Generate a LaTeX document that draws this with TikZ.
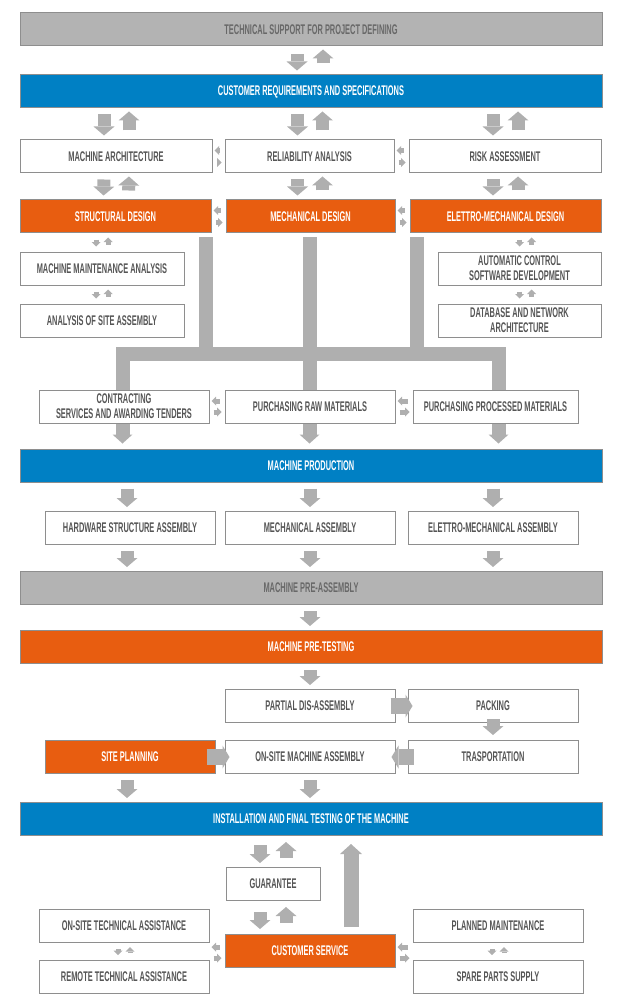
\documentclass[tikz,border=0pt]{standalone}
\usepackage{fontspec}
\setmainfont{Liberation Sans}[FakeStretch=0.53]
\usepackage{tikz}
\usetikzlibrary{arrows.meta,positioning,calc,backgrounds}
\usepackage{xcolor}
\definecolor{topgray}{HTML}{B3B3B3}
\definecolor{arrowgray}{HTML}{AFAFAF}
\definecolor{boxline}{HTML}{8E8E8E}
\definecolor{boxtext}{HTML}{555555}
\definecolor{graytext}{HTML}{686868}
\definecolor{specblue}{HTML}{0080C4}
\definecolor{designorange}{HTML}{E85D10}

\tikzset{
  box/.style={rectangle,draw=boxline,line width=1pt,fill=white,text=boxtext,
    minimum height=33pt,inner sep=0pt,align=center,
    font=\bfseries\fontsize{14}{15}\selectfont},
  wide/.style={minimum width=582pt},
  graybox/.style={box,fill=topgray,text=graytext},
  bluebox/.style={box,fill=specblue,text=white},
  orangebox/.style={box,fill=designorange,text=white},
  bigarr/.style={draw=arrowgray,line width=13pt,-{Triangle[width=21pt,length=9pt,line width=0pt]}},
  dn/.style={bigarr,shorten <=6pt,shorten >=4pt},
  up/.style={bigarr,shorten <=9pt,shorten >=3pt},
  harr/.style={draw=arrowgray,line width=16pt,-{Triangle[width=23pt,length=7pt,line width=0pt]}},
  sm/.style={draw=arrowgray,line width=5pt,-{Triangle[width=9pt,length=4.5pt,line width=0pt]}},
  smL/.style={sm,shorten <=5pt,shorten >=2pt},
  smR/.style={sm,shorten <=4pt,shorten >=3pt},
  smD/.style={sm,shorten <=6pt,shorten >=5pt},
  smU/.style={sm,shorten <=7pt,shorten >=4pt},
  bus/.style={draw=arrowgray,line width=14pt},
  busarr/.style={bus,-{Triangle[width=20pt,length=9pt,line width=0pt]},shorten >=5pt}
}

\begin{document}
\begin{tikzpicture}[x=1pt,y=-1pt]
  \useasboundingbox (0,0) rectangle (626,1000);

  % Project definition
  \node[graybox,wide] (tech) at (311,29.5) {TECHNICAL SUPPORT FOR PROJECT DEFINING};
  \node[bluebox,wide] (cust) at (311,91.5) {CUSTOMER REQUIREMENTS AND SPECIFICATIONS};

  \node[box,minimum width=192pt] (arch) at (116,156.5) {MACHINE ARCHITECTURE};
  \node[box,minimum width=169pt] (reli) at (309.5,156.5) {RELIABILITY ANALYSIS};
  \node[box,minimum width=192pt] (risk) at (505,156.5) {RISK ASSESSMENT};

  % Design
  \node[orangebox,minimum width=191pt] (struct) at (115.5,216.5) {STRUCTURAL DESIGN};
  \node[orangebox,minimum width=169pt] (mech) at (310.5,216.5) {MECHANICAL DESIGN};
  \node[orangebox,minimum width=191pt] (elet) at (505.5,216.5) {ELETTRO-MECHANICAL DESIGN};

  \node[box,minimum width=164pt] (maint) at (102,268.5) {MACHINE MAINTENANCE ANALYSIS};
  \node[box,minimum width=164pt] (siteas) at (102,320.5) {ANALYSIS OF SITE ASSEMBLY};
  \node[box,minimum width=163pt] (autoc) at (519.5,268.5) {AUTOMATIC CONTROL\\SOFTWARE DEVELOPMENT};
  \node[box,minimum width=163pt] (dbnet) at (519.5,320.5) {DATABASE AND NETWORK\\ARCHITECTURE};

  % Purchasing
  \node[box,minimum width=170pt] (contr) at (124,406.5) {CONTRACTING\\SERVICES AND AWARDING TENDERS};
  \node[box,minimum width=170pt] (raw) at (310,406.5) {PURCHASING RAW MATERIALS};
  \node[box,minimum width=165pt] (proc) at (495.5,406.5) {PURCHASING PROCESSED MATERIALS};

  % Production
  \node[bluebox,wide] (prod) at (311,465.5) {MACHINE PRODUCTION};
  \node[box,minimum width=170pt] (hw) at (130,528) {HARDWARE STRUCTURE ASSEMBLY};
  \node[box,minimum width=170pt] (mechas) at (310,528) {MECHANICAL ASSEMBLY};
  \node[box,minimum width=170pt] (eletas) at (493,528) {ELETTRO-MECHANICAL ASSEMBLY};
  \node[graybox,wide] (preas) at (311,588) {MACHINE PRE-ASSEMBLY};
  \node[orangebox,wide] (pretest) at (311,647) {MACHINE PRE-TESTING};

  % Shipping and site
  \node[box,minimum width=170pt] (partial) at (310,706) {PARTIAL DIS-ASSEMBLY};
  \node[box,minimum width=170pt] (packing) at (493,706) {PACKING};
  \node[box,minimum width=170pt] (transp) at (493,757) {TRASPORTATION};
  \node[box,minimum width=170pt] (onsite) at (310,757) {ON-SITE MACHINE ASSEMBLY};
  \node[orangebox,minimum width=170pt] (siteplan) at (130,757) {SITE PLANNING};
  \node[bluebox,wide] (install) at (311,819) {INSTALLATION AND FINAL TESTING OF THE MACHINE};

  % After sales
  \node[box,minimum width=94pt] (guar) at (273,884) {GUARANTEE};
  \node[box,minimum width=170pt] (onta) at (124,926) {ON-SITE TECHNICAL ASSISTANCE};
  \node[orangebox,minimum width=170pt] (custsv) at (310,951) {CUSTOMER SERVICE};
  \node[box,minimum width=170pt] (remta) at (124,977) {REMOTE TECHNICAL ASSISTANCE};
  \node[box,minimum width=170pt] (plan) at (498,926) {PLANNED MAINTENANCE};
  \node[box,minimum width=170pt] (spare) at (498,977) {SPARE PARTS SUPPLY};

  % Bus from design to purchasing
  \coordinate (busw) at (122.5,353.5);
  \coordinate (buse) at (498.5,353.5);
  \begin{scope}[on background layer]
    \draw[bus,line cap=rect] (busw) -- (buse);
    \draw[bus] ($(struct.south east)+(-6,4)$) |- (busw);
    \draw[bus] ($(elet.south west)+(7,4)$) |- (buse);
    \draw[busarr] ($(mech.south)+(-1,4)$) -- ($(mech.south |- prod.north)+(-1,0)$);
    \draw[busarr] (busw) -- (busw |- prod.north);
    \draw[busarr] (buse) -- (buse |- prod.north);
  \end{scope}

  % Two-way arrows
  \draw[dn,shorten <=8pt] ($(tech.south)+(-14,0)$) -- ($(cust.north)+(-14,0)$);
  \draw[up,shorten <=11pt] ($(cust.north)+(12,0)$) -- ($(tech.south)+(12,0)$);

  \draw[dn] ($(cust.south -| arch.north)+(-12,0)$) -- ($(arch.north)+(-12,0)$);
  \draw[up] ($(arch.north)+(13,0)$) -- ($(cust.south -| arch.north)+(13,0)$);
  \draw[dn] ($(cust.south -| reli.north)+(-12,0)$) -- ($(reli.north)+(-12,0)$);
  \draw[up] ($(reli.north)+(13,0)$) -- ($(cust.south -| reli.north)+(13,0)$);
  \draw[dn] ($(cust.south -| risk.north)+(-12,0)$) -- ($(risk.north)+(-12,0)$);
  \draw[up] ($(risk.north)+(13,0)$) -- ($(cust.south -| risk.north)+(13,0)$);

  \draw[dn] ($(arch.south)+(-12,0)$) -- ($(struct.north)+(-12,0)$);
  \draw[up] ($(struct.north)+(13,0)$) -- ($(arch.south)+(13,0)$);
  \draw[dn] ($(reli.south)+(-12,0)$) -- ($(mech.north -| reli.south)+(-12,0)$);
  \draw[up] ($(mech.north -| reli.south)+(13,0)$) -- ($(reli.south)+(13,0)$);
  \draw[dn] ($(risk.south)+(-12,0)$) -- ($(elet.north -| risk.south)+(-12,0)$);
  \draw[up] ($(elet.north -| risk.south)+(13,0)$) -- ($(risk.south)+(13,0)$);

  % Side arrows
  \draw[smL] ($(reli.west)+(0,-6)$) -- ($(arch.east)+(0,-6)$);
  \draw[smR] ($(arch.east)+(0,6)$) -- ($(reli.west)+(0,6)$);
  \draw[smL] ($(risk.west)+(0,-6)$) -- ($(reli.east)+(0,-6)$);
  \draw[smR] ($(reli.east)+(0,6)$) -- ($(risk.west)+(0,6)$);
  \draw[smL] ($(mech.west)+(0,-6)$) -- ($(struct.east)+(0,-6)$);
  \draw[smR] ($(struct.east)+(0,6)$) -- ($(mech.west)+(0,6)$);
  \draw[smL] ($(elet.west)+(0,-6)$) -- ($(mech.east)+(0,-6)$);
  \draw[smR] ($(mech.east)+(0,6)$) -- ($(elet.west)+(0,6)$);
  \draw[smL] ($(raw.west)+(0,-5.5)$) -- ($(contr.east)+(0,-5.5)$);
  \draw[smR] ($(contr.east)+(0,5.5)$) -- ($(raw.west)+(0,5.5)$);
  \draw[smL] ($(proc.west)+(0,-5.5)$) -- ($(raw.east)+(0,-5.5)$);
  \draw[smR] ($(raw.east)+(0,5.5)$) -- ($(proc.west)+(0,5.5)$);

  % Small stacked arrows
  \draw[smD] ($(struct.south -| maint.north)+(-6,0)$) -- ($(maint.north)+(-6,0)$);
  \draw[smU] ($(maint.north)+(6,0)$) -- ($(struct.south -| maint.north)+(6,0)$);
  \draw[smD] ($(maint.south)+(-6,0)$) -- ($(siteas.north)+(-6,0)$);
  \draw[smU] ($(siteas.north)+(6,0)$) -- ($(maint.south)+(6,0)$);
  \draw[smD] (elet.south -| autoc.north) -- (autoc.north);
  \draw[smU] ($(autoc.north)+(12,0)$) -- ($(elet.south -| autoc.north)+(12,0)$);
  \draw[smD] (autoc.south) -- (dbnet.north);
  \draw[smU] ($(dbnet.north)+(12,0)$) -- ($(autoc.south)+(12,0)$);

  % Production flow
  \draw[dn] ($(prod.south -| hw.north)+(-3,0)$) -- ($(hw.north)+(-3,0)$);
  \draw[dn] (prod.south -| mechas.north) -- (mechas.north);
  \draw[dn] (prod.south -| eletas.north) -- (eletas.north);
  \draw[dn] ($(hw.south)+(-3,0)$) -- ($(preas.north -| hw.south)+(-3,0)$);
  \draw[dn] (mechas.south) -- (preas.north -| mechas.south);
  \draw[dn] (eletas.south) -- (preas.north -| eletas.south);
  \draw[dn] (preas.south -| partial.north) -- (pretest.north -| partial.north);
  \draw[dn] (pretest.south -| partial.north) -- (partial.north);

  % Shipping
  \draw[harr,shorten <=-5pt,shorten >=-5pt] (partial.east) -- (packing.west);
  \draw[bigarr,shorten <=-4pt,shorten >=5pt] (packing.south) -- (transp.north);
  \draw[harr,shorten <=-6pt,shorten >=-4pt] (transp.west) -- (onsite.east);
  \draw[harr,shorten <=-9pt,shorten >=-5pt] (siteplan.east) -- (onsite.west);
  \draw[dn] ($(siteplan.south)+(-3,0)$) -- ($(install.north -| siteplan.south)+(-3,0)$);
  \draw[dn] (onsite.south) -- (install.north -| onsite.south);

  % After sales
  \draw[dn,shorten <=9pt] ($(install.south -| guar.north)+(-13,0)$) -- ($(guar.north)+(-13,0)$);
  \draw[up,shorten >=6pt] ($(guar.north)+(13,0)$) -- ($(install.south -| guar.north)+(13,0)$);
  \draw[dn,shorten <=11pt,shorten >=5pt] ($(guar.south)+(-13,0)$) -- ($(custsv.north -| guar.south)+(-13,0)$);
  \draw[up,shorten <=11pt,shorten >=6pt] ($(custsv.north -| guar.south)+(13,0)$) -- ($(guar.south)+(13,0)$);
  \draw[bigarr,line width=15pt,-{Triangle[width=22pt,length=10pt,line width=0pt]},shorten <=7pt,shorten >=8pt]
    ($(custsv.north)+(41,0)$) -- ($(install.south -| custsv.north)+(41,0)$);

  \draw[smL] ($(custsv.west)+(0,-4)$) -- ($(onta.east |- custsv.west)+(0,-4)$);
  \draw[smR] ($(onta.east |- custsv.west)+(0,7)$) -- ($(custsv.west)+(0,7)$);
  \draw[smL] ($(plan.west |- custsv.east)+(0,-4)$) -- ($(custsv.east)+(0,-4)$);
  \draw[smR] ($(custsv.east)+(0,7)$) -- ($(plan.west |- custsv.east)+(0,7)$);
  \draw[smD] ($(onta.south)+(-6,0)$) -- ($(remta.north)+(-6,0)$);
  \draw[smU] ($(remta.north)+(6,0)$) -- ($(onta.south)+(6,0)$);
  \draw[smD] ($(plan.south)+(-6,0)$) -- ($(spare.north)+(-6,0)$);
  \draw[smU] ($(spare.north)+(6,0)$) -- ($(plan.south)+(6,0)$);
\end{tikzpicture}
\end{document}
